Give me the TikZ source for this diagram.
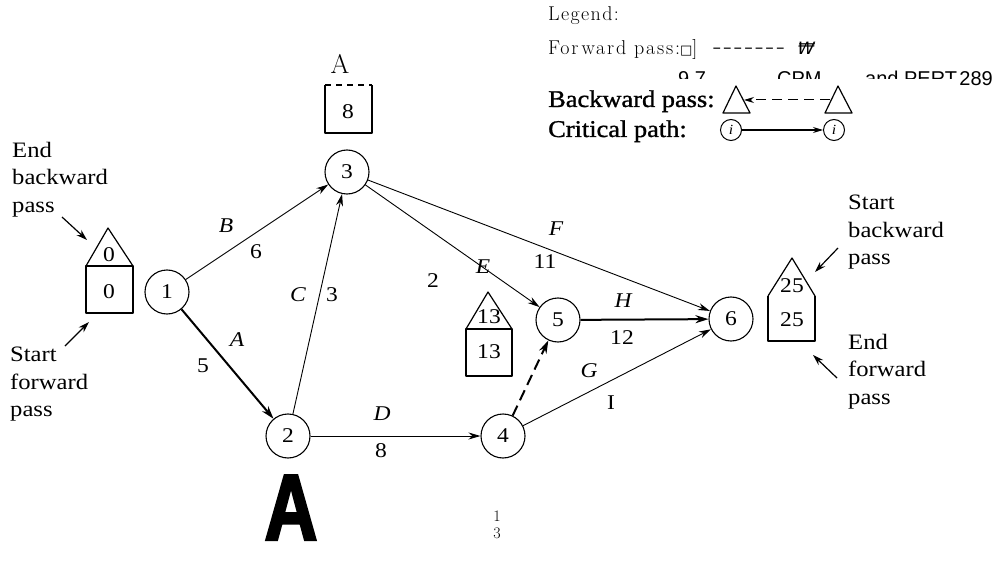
\documentclass[tikz,border=0pt]{standalone}
\usepackage{fontspec}
\setmainfont{Liberation Serif}[FakeStretch=1.12]
\newfontfamily\lmfont{Latin Modern Roman}[LetterSpace=7]
\newfontfamily\lmwide{Latin Modern Roman}[LetterSpace=9]
\newfontfamily\lmplain{Latin Modern Roman}
\newfontfamily\dvfont{DejaVu Sans}
\newfontfamily\dvslant{DejaVu Sans}[FakeSlant=0.25]
\newfontfamily\sansfont{Liberation Sans}
\newfontfamily\heavy{Liberation Sans}[BoldFeatures={FakeBold=2.5,FakeStretch=0.78}]
\newfontfamily\scanbold{Liberation Serif}[FakeBold=1.2,FakeStretch=1.1]
\usetikzlibrary{arrows.meta}
\tikzset{
  ev/.style={circle,draw,line width=1.1pt,minimum size=44pt,inner sep=0pt,font=\fontsize{21}{24}\selectfont},
  edge/.style={line width=0.9pt,-{Stealth[length=12pt,width=7pt]}},
  crit/.style={line width=2pt,-{Stealth[length=13pt,width=8pt]}},
  lbl/.style={font=\fontsize{21}{24}\selectfont,inner sep=0pt},
  ilbl/.style={font=\fontsize{21}{24}\selectfont\itshape,inner sep=0pt},
  note/.style={font=\fontsize{22}{27.5}\selectfont,align=left,anchor=north west,inner sep=0pt},
  pointer/.style={line width=1.2pt,-{Stealth[length=11pt,width=7pt]}},
  boxline/.style={line width=1.2pt,line join=round},
  boxnum/.style={font=\fontsize{21}{24}\selectfont,inner sep=0pt},
  legtxt/.style={font=\scanbold\fontsize{24}{28}\selectfont,anchor=base west,inner sep=0pt},
  thin/.style={font=\lmfont\fontsize{20}{23}\selectfont,anchor=base west,inner sep=0pt},
  frag/.style={font=\sansfont\fontsize{20}{22}\selectfont,anchor=base west,inner sep=0pt},
  legev/.style={circle,draw,line width=1pt,minimum size=21pt,inner sep=0pt,font=\fontsize{14}{16}\selectfont\itshape},
}
\begin{document}
\begin{tikzpicture}[x=1pt,y=-1pt]
\useasboundingbox[fill=white] (0,0) rectangle (1004,564);

% ---------- legend ----------
\node[thin] (legend) at (548,21) {Legend:};
\node[thin,font=\lmwide\fontsize{20}{23}\selectfont] (fwd) at (548,55)
  {For\kern3pt ward pass:{\dvfont\fontsize{13}{13}\selectfont □}]\hspace{16pt}{\fontsize{27}{27}\selectfont -------}\hspace{11pt}{\dvslant\fontsize{17}{17}\selectfont ₩}};
\begin{scope}
  \clip (640,60) rectangle (958,79);
  \node[frag] (frag1) at (678,86) {9.7};
  \node[frag] (frag2) at (777,86) {CPM};
  \node[frag] (frag3) at (865,86) {and PERT};
\end{scope}
\node[frag,anchor=base east] (page) at (993,86) {289};

\node[legtxt] (bwd) at (548,107) {Backward pass:};
\coordinate (tl1) at (723,113); \coordinate (tl2) at (736,86); \coordinate (tl3) at (750,113);
\coordinate (tr1) at (825,113); \coordinate (tr2) at (838,86); \coordinate (tr3) at (852,113);
\draw[boxline] (tl1) -- (tl2) -- (tl3) -- cycle;
\draw[boxline] (tr1) -- (tr2) -- (tr3) -- cycle;
\coordinate (bwa) at (830,100); \coordinate (bwb) at (744,100);
\draw[line width=1pt,dash pattern=on 10pt off 6pt,-{Stealth[length=10pt,width=6pt]}] (bwa) -- (bwb);

\node[legtxt] (crit) at (548,137) {Critical path:};
\node[legev] (ci1) at (731,130) {i};
\node[legev] (ci2) at (834,130) {i};
\draw[line width=1.1pt,-{Stealth[length=10pt,width=6pt]}] (ci1) -- (ci2);

% ---------- events ----------
\node[ev] (n1) at (167,292) {1};
\node[ev] (n2) at (288,436) {2};
\node[ev] (n3) at (347,172) {3};
\node[ev] (n4) at (503,436) {4};
\node[ev] (n5) at (558,320) {5};
\node[ev] (n6) at (731,319) {6};

% ---------- activities ----------
\draw[crit] (n1) -- (n2);
\draw[edge] (n1) -- (n3);
\draw[edge] (n2) -- (n3);
\draw[edge] (n2) -- (n4);
\draw[edge] (n3) -- (n5);
\draw[edge] (n3) -- (n6);
\draw[edge] (n4) -- (n6);
\draw[crit] (n5) -- (n6);
\draw[line width=2pt,dash pattern=on 11pt off 6pt,-{Stealth[length=13pt,width=8pt]}] (n4) -- (n5);

\node[ilbl] (lB) at (226,226) {B};
\node[lbl]  (wB) at (256,252) {6};
\node[ilbl] (lA) at (237,340) {A};
\node[lbl]  (wA) at (203,366) {5};
\node[ilbl] (lC) at (298,295) {C};
\node[lbl]  (wC) at (332,295) {3};
\node[ilbl] (lD) at (382,414) {D};
\node[lbl]  (wD) at (381,451) {8};
\node[ilbl] (lE) at (483,267) {E};
\node[lbl]  (wE) at (433,281) {2};
\node[ilbl] (lF) at (556,229) {F};
\node[lbl]  (wF) at (545,262) {11};
\node[ilbl] (lH) at (623,301) {H};
\node[lbl]  (wH) at (622,338) {12};
\node[ilbl] (lG) at (589,371) {G};
\node[lbl]  (wG) at (611,403) {I};

% ---------- time boxes ----------
% event 1
\draw[boxline] (86,266) rectangle (133,313);
\draw[boxline] (86,266) -- (108,228) -- (133,266);
\node[boxnum] (b1t) at (109,255) {0};
\node[boxnum] (b1s) at (109,292) {0};
% event 3
\node[inner sep=0pt,font=\lmplain\fontsize{27}{30}\selectfont] (labA) at (340,64) {A};
\draw[boxline] (325,85) -- (325,133) -- (372,133) -- (372,85);
\draw[boxline,dash pattern=on 6pt off 5pt] (325,85) -- (372,85);
\node[boxnum] (b3s) at (348,112) {8};
% event 5
\draw[boxline] (466,329) rectangle (512,376);
\draw[boxline] (466,329) -- (488,292) -- (512,329);
\node[boxnum] (b5t) at (489,317) {13};
\node[boxnum] (b5s) at (489,352) {13};
% event 6
\draw[boxline] (768,296) -- (768,341) -- (815,341) -- (815,296);
\draw[boxline] (768,296) -- (792,258) -- (815,296);
\node[boxnum] (b6t) at (792,286) {25};
\node[boxnum] (b6s) at (792,320) {25};

% ---------- notes ----------
\node[note] (endb) at (12,142) {End\\backward\\pass};
\node[note] (startf) at (10,347) {Start\\forward\\pass};
\node[note] (startb) at (848,195) {Start\\backward\\pass};
\node[note] (endf) at (848,334) {End\\forward\\pass};
\coordinate (pe1) at (62,217); \coordinate (pe2) at (87,240);
\coordinate (ps1) at (65,346); \coordinate (ps2) at (89,322);
\coordinate (pb1) at (838,248); \coordinate (pb2) at (815,272);
\coordinate (pf1) at (837,378); \coordinate (pf2) at (813,355);
\draw[pointer] (pe1) -- (pe2);
\draw[pointer] (ps1) -- (ps2);
\draw[pointer] (pb1) -- (pb2);
\draw[pointer] (pf1) -- (pf2);

% ---------- stray marks ----------
\node[inner sep=0pt,anchor=base,font=\heavy\bfseries\fontsize{94}{94}\selectfont] (bigA) at (291,540) {A};
\node[inner sep=0pt,font=\lmplain\fontsize{16}{18}\selectfont] (one) at (497,516) {1};
\node[inner sep=0pt,font=\lmplain\fontsize{16}{18}\selectfont] (three) at (497,533) {3};
\end{tikzpicture}
\end{document}
